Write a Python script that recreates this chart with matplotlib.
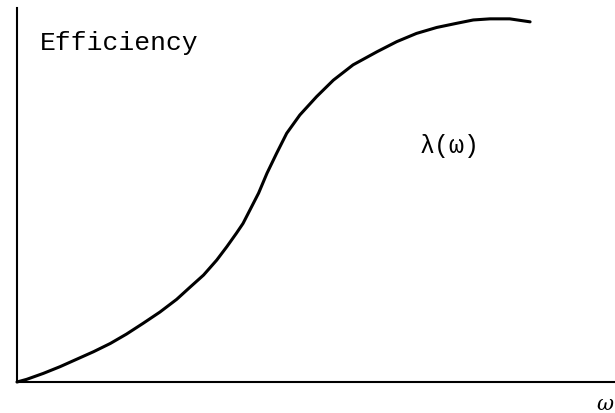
import matplotlib
matplotlib.use("Agg")
import matplotlib.pyplot as plt

# curve (omega and efficiency scaled 0..1)
omega = [0.0, 0.016, 0.044, 0.072, 0.100, 0.128, 0.156, 0.183, 0.211, 0.239,
         0.267, 0.289, 0.312, 0.334, 0.351, 0.367, 0.378, 0.404, 0.418, 0.434,
         0.451, 0.473, 0.501, 0.529, 0.562, 0.602, 0.635, 0.668, 0.702, 0.735,
         0.763, 0.791, 0.824, 0.858]
efficiency = [0.0, 0.007, 0.023, 0.041, 0.061, 0.081, 0.103, 0.128, 0.157, 0.187,
              0.221, 0.253, 0.286, 0.326, 0.362, 0.398, 0.424, 0.505, 0.558, 0.611,
              0.665, 0.714, 0.763, 0.807, 0.848, 0.883, 0.910, 0.932, 0.948, 0.959,
              0.968, 0.971, 0.971, 0.963]

y_label = "Efficiency"
curve_label = "λ(ω)"
x_label = "ω"

fig = plt.figure(figsize=(6.15, 4.13), dpi=100)
ax = fig.add_axes([17 / 615, 31 / 413, 598 / 615, 374 / 413])

ax.plot(omega, efficiency, color="black", linewidth=2.2,
        solid_capstyle="round", solid_joinstyle="round", clip_on=False)

ax.set_xlim(0, 1)
ax.set_ylim(0, 1)
ax.set_xticks([])
ax.set_yticks([])
for side in ["top", "right"]:
    ax.spines[side].set_visible(False)
for side in ["left", "bottom"]:
    ax.spines[side].set_linewidth(1.5)
    ax.spines[side].set_color("black")

ax.text(0.038, 0.906, y_label, fontsize=19, family="Liberation Mono",
        ha="left", va="center")
ax.text(0.674, 0.631, curve_label, fontsize=18, family="Liberation Mono",
        ha="left", va="center")
ax.text(0.997, -0.061, x_label, fontsize=15, family="DejaVu Serif",
        style="italic", ha="right", va="center", clip_on=False)

fig.savefig("out.png", dpi=100, facecolor="white")
